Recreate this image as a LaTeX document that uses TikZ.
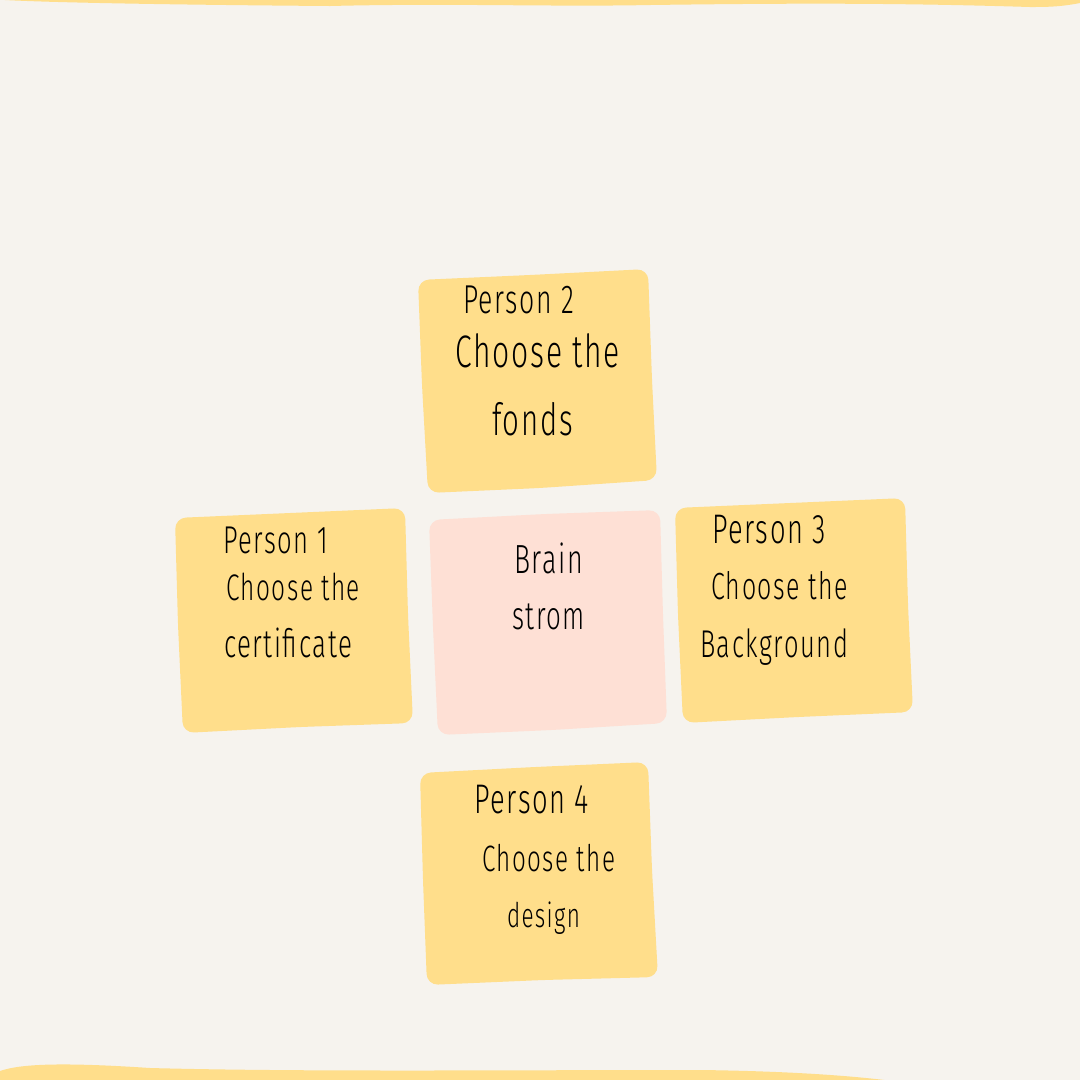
\documentclass[tikz,border=0pt]{standalone}
\usepackage{fontspec}
\setmainfont{Fira Sans}[UprightFont={* Light}, FakeStretch=0.66, LetterSpace=4]
\usepackage{graphicx}
\definecolor{bgc}{HTML}{F6F3EE}
\definecolor{noteyellow}{HTML}{FFDE8B}
\definecolor{notepink}{HTML}{FEE0D5}
\newlength\pxu
\setlength\pxu{0.02cm}
\newcommand\fitline[2]{\resizebox{#1\pxu}{!}{#2}}
\tikzset{
  notefill/.style={fill=#1, rounded corners=0.22cm},
  txt/.style={anchor=base west, inner sep=0pt, outer sep=0pt, text=black},
}
\begin{document}
\begin{tikzpicture}[x=0.02cm, y=-0.02cm]
\useasboundingbox (0,0) rectangle (1080,1080);
\fill[bgc] (0,0) rectangle (1080,1080);
% top band
\fill[noteyellow] (0,-2) -- (1080,-2) -- (1080,3) .. controls (1060,7) and (1045,7) .. (1030,7)
  .. controls (900,3) and (800,3) .. (650,5) .. controls (550,7) and (450,3) .. (330,6)
  .. controls (200,5) and (60,3) .. (5,0) -- cycle;
% bottom band
\fill[noteyellow] (0,1082) -- (0,1071) .. controls (20,1064) and (60,1062) .. (150,1068)
  .. controls (300,1072) and (500,1070) .. (700,1070) .. controls (780,1071) and (850,1075) .. (900,1082) -- cycle;
% notes
\fill[notefill=noteyellow] (418,280) -- (530,275) -- (648,269) -- (652,380) -- (657,480) -- (540,488) -- (428,493) -- (422,385) -- cycle;
\fill[notefill=noteyellow] (175,518) -- (290,513) -- (405,508) -- (408,615) -- (413,723) -- (300,727) -- (183,733) -- (178,625) -- cycle;
\fill[notefill=notepink] (429,520) -- (545,514) -- (660,510) -- (663,615) -- (667,723) -- (552,730) -- (438,735) -- (433,627) -- cycle;
\fill[notefill=noteyellow] (675,508) -- (790,503) -- (905,498) -- (908,605) -- (913,712) -- (798,717) -- (683,723) -- (678,615) -- cycle;
\fill[notefill=noteyellow] (420,773) -- (535,767) -- (648,762) -- (652,870) -- (658,977) -- (543,980) -- (427,985) -- (423,880) -- cycle;
% texts
\node[txt] (p2a) at (463,313) {\fitline{111}{Person 2}};
\node[txt] (p2b) at (455,367) {\fitline{165}{Choose the}};
\node[txt] (p2c) at (492,435) {\fitline{81}{fonds}};
\node[txt] (p1a) at (223,553) {\fitline{105}{Person 1}};
\node[txt] (p1b) at (226,600) {\fitline{134}{Choose the}};
\node[txt] (p1c) at (224,657) {\fitline{128}{certificate}};
\node[txt] (bra) at (514,573) {\fitline{69}{Brain}};
\node[txt] (brb) at (512,629) {\fitline{73}{strom}};
\node[txt] (p3a) at (712,543) {\fitline{114}{Person 3}};
\node[txt] (p3b) at (711,599) {\fitline{137}{Choose the}};
\node[txt] (p3c) at (700,657) {\fitline{148}{Background}};
\node[txt] (p4a) at (474,813) {\fitline{115}{Person 4}};
\node[txt] (p4b) at (482,871) {\fitline{133}{Choose the}};
\node[txt] (p4c) at (507,927) {\fitline{73}{design}};
\end{tikzpicture}
\end{document}
